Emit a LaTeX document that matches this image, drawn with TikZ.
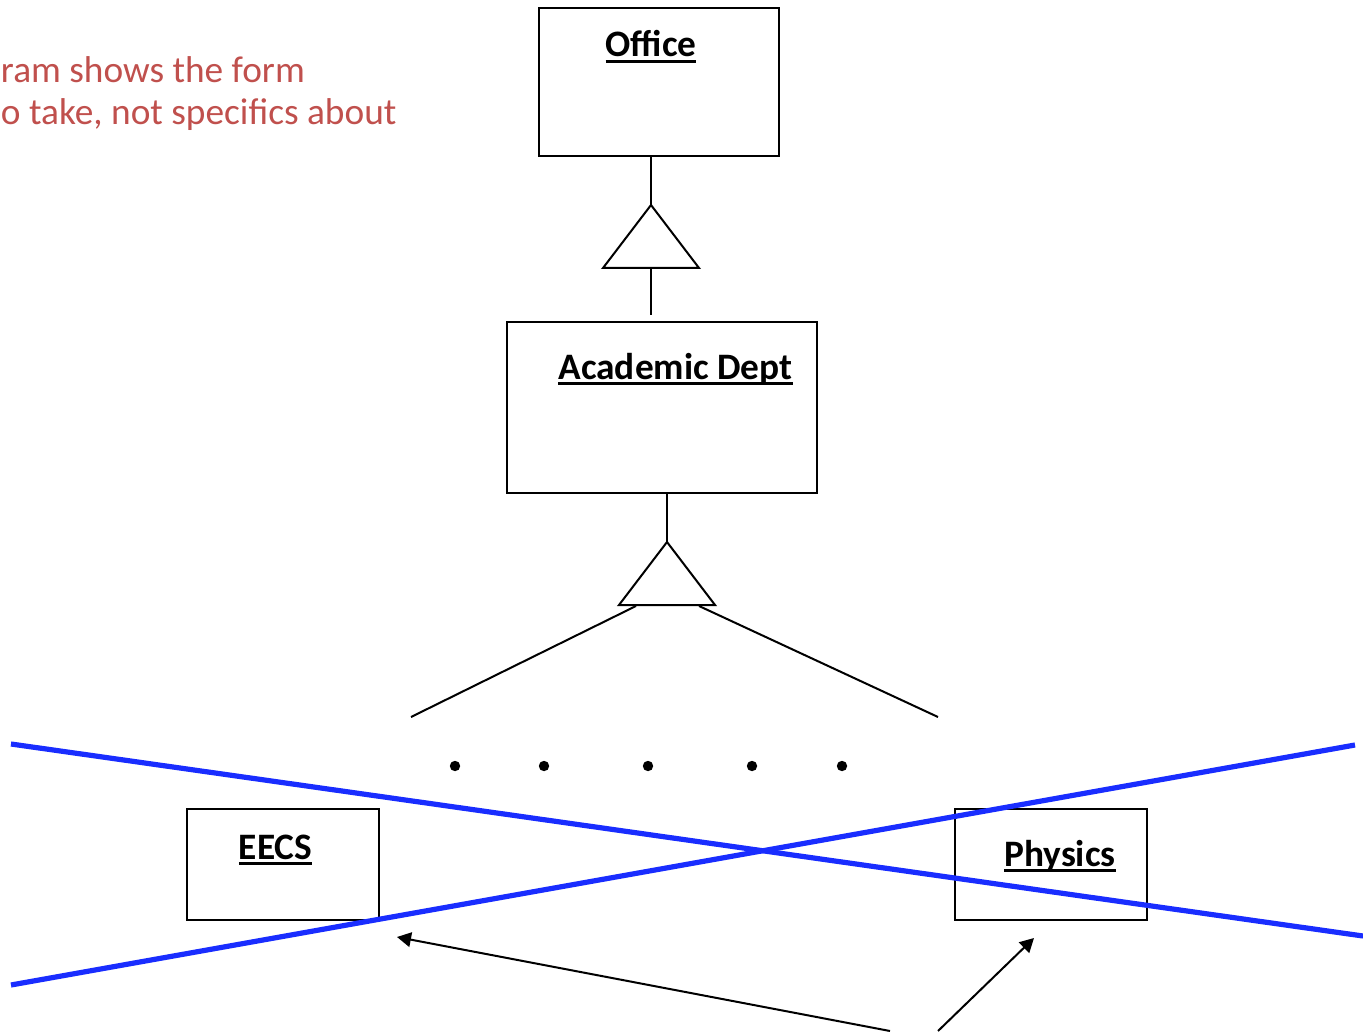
\documentclass[tikz,border=0pt]{standalone}
\usepackage{fontspec}
\setmainfont{Carlito}
\usepackage{tikz}
\usetikzlibrary{arrows.meta,positioning}
\definecolor{notered}{RGB}{192,80,77}
\definecolor{crossblue}{RGB}{25,45,255}
% underlined class name, rule just under the baseline
\newcommand{\clsname}[1]{\setbox0\hbox{\bfseries #1}\rlap{\rule[-0.16em]{\wd0}{0.075em}}\box0}

\begin{document}
\begin{tikzpicture}
[x=0.75pt, y=-0.75pt, line width=1.5pt, font=\fontsize{28}{34}\selectfont,
% STYLES
% The class style is used to draw the boxes of the hierarchy
class/.style={rectangle, draw, inner sep=0pt, anchor=north west},
% The title style is used to write the underlined names
title/.style={anchor=base, inner sep=0pt},
% The note style is used for the red remark
note/.style={anchor=base west, inner sep=0pt, text=notered},
% The cross style is used for the blue strokes
cross/.style={crossblue, line width=3.9pt},
isa/.style={draw, line join=miter}]

\useasboundingbox (0,0) rectangle (1363,1034);

% Draw classes
\node [class, minimum width=180pt, minimum height=111pt] (office) at (538,7) {};
\node [class, minimum width=232.5pt, minimum height=128.25pt] (adept) at (506,321) {};
\node [class, minimum width=144pt, minimum height=83.25pt] (eecs) at (186,808) {};
\node [class, minimum width=144pt, minimum height=83.25pt] (physics) at (954,808) {};

% names
\node [title] (office-name) at (651,57) {\clsname{Office}};
\node [title] (adept-name) at (675.5,379) {\clsname{Academic Dept}};
\node [title] (eecs-name) at (275.5,859) {\clsname{EECS}};
\node [title] (physics-name) at (1060,866) {\clsname{Physics}};

% remark
\node [note] (note1) at (0,83) {ram shows the form};
\node [note] (note2) at (0,125) {o take, not specifics about};

%%%%%%%%%%%%%%%
% Triangles
\coordinate (tri1) at (651,205);
\coordinate (tri1-base) at (651,268);
\coordinate (tri2) at (667,542);
\coordinate (tri2-base) at (667,605);
\coordinate (tri2-left) at (636,606);
\coordinate (tri2-right) at (699,606);
\coordinate (spread-left) at (411,717);
\coordinate (spread-right) at (938,717);

\path[isa] (tri1) -- ++(-48,63) -- ++(96,0) -- cycle;
\path[isa] (tri2) -- ++(-48,63) -- ++(96,0) -- cycle;

% dots
\foreach \x in {455,544,648,752,842}
  \fill (\x,766) circle (3.9pt);
%%%%%%%%%%%%%%%

% Draw the links between classes
\draw (tri1 |- office.south) -- (tri1);
\draw[shorten >=4.5pt] (tri1-base) -- (tri1-base |- adept.north);
\draw (tri2 |- adept.south) -- (tri2);
\draw (tri2-left) -- (spread-left);
\draw (tri2-right) -- (spread-right);

% blue strokes
\draw[cross] (11,744) -- (1363,936);
\draw[cross] (11,985) -- (1355,745);

% arrows
\coordinate (from1) at (890,1031);
\coordinate (to1) at (397,937);
\coordinate (from2) at (938,1031);
\coordinate (to2) at (1034,938);
\path[-{Triangle[length=10.5pt,width=11pt]}, line width=1.5pt]
(from1) edge (to1)
(from2) edge (to2);

\end{tikzpicture}
\end{document}
